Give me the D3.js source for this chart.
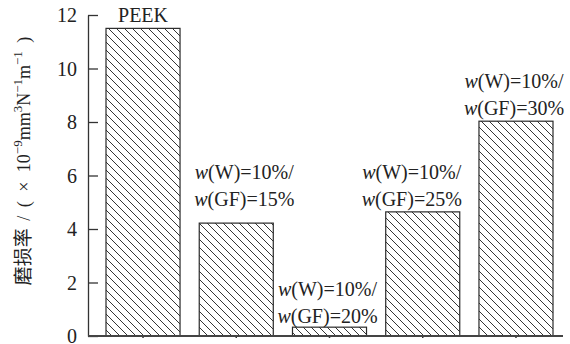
<!DOCTYPE html>
<html>
<head>
<meta charset="utf-8">
<script src="https://cdn.jsdelivr.net/npm/d3@7/dist/d3.min.js"></script>
<style>
  html, body { margin: 0; padding: 0; background: #fff; }
  svg { display: block; }
  text { font-family: 'Liberation Serif', 'DejaVu Serif', serif; fill: #222; }
</style>
</head>
<body>
<svg id="chart" width="570" height="344"></svg>
<script>
// Wear rate of PEEK and W/GF filled composites
const categories = ["PEEK", "w(W)=10%/w(GF)=15%", "w(W)=10%/w(GF)=20%", "w(W)=10%/w(GF)=25%", "w(W)=10%/w(GF)=30%"];
const wearRate = [11.5, 4.22, 0.33, 4.64, 8.03];
const yTicks = [0, 2, 4, 6, 8, 10, 12];

// small hand placements for the bar captions
const captionNudge = [
  { dx: 0, dy: 0 },
  { dx: 8, dy: -11 },
  { dx: -2, dy: 2 },
  { dx: -11, dy: 0 },
  { dx: -2, dy: 0 }
];

const SERIF = "'Liberation Serif', 'DejaVu Serif', serif";
const svg = d3.select("#chart");
const axisX = 88, baseY = 336, topY = 15, rightX = 563;

const y = d3.scaleLinear().domain([0, 12]).range([baseY, topY]);
const x = d3.scaleBand().domain(categories)
  .range([96.4, 562.6]).paddingInner(0.206).paddingOuter(0.103);

// diagonal hatching, running from upper left to lower right
const defs = svg.append("defs");
defs.append("pattern")
  .attr("id", "hatch")
  .attr("patternUnits", "userSpaceOnUse")
  .attr("width", 8).attr("height", 8)
  .append("path")
  .attr("d", "M-1,-1L9,9M-1,7L1,9M7,-1L9,1")
  .attr("stroke", "#1e1e1e").attr("stroke-width", 0.9).attr("fill", "none");

// bars
svg.append("g").selectAll("rect")
  .data(categories)
  .join("rect")
  .attr("x", d => x(d))
  .attr("y", (d, i) => y(wearRate[i]))
  .attr("width", x.bandwidth())
  .attr("height", (d, i) => y(0) - y(wearRate[i]))
  .attr("fill", "url(#hatch)")
  .attr("stroke", "#2a2a2a")
  .attr("stroke-width", 1.2);

// y axis with inward ticks
const yAxis = svg.append("g")
  .attr("transform", `translate(${axisX},0)`)
  .call(d3.axisLeft(y).tickValues(yTicks).tickSizeInner(-10).tickSizeOuter(0).tickPadding(11));
yAxis.attr("font-family", null).attr("font-size", null);
yAxis.select(".domain").attr("stroke", "#333").attr("stroke-width", 1.3);
yAxis.selectAll(".tick line").attr("stroke", "#333").attr("stroke-width", 1.3);
yAxis.selectAll(".tick text")
  .style("font-family", SERIF)
  .style("font-size", "20px").attr("fill", "#222").attr("dy", "0.34em");

// x axis: baseline with small ticks at the bars
const xAxis = svg.append("g")
  .attr("transform", `translate(0,${baseY})`)
  .call(d3.axisBottom(x).tickSizeInner(2).tickSizeOuter(0).tickFormat(""));
xAxis.select(".domain").remove();
xAxis.selectAll(".tick line").attr("stroke", "#333").attr("stroke-width", 1.5);
svg.append("line")
  .attr("x1", axisX).attr("x2", rightX)
  .attr("y1", baseY).attr("y2", baseY)
  .attr("stroke", "#444").attr("stroke-width", 2);

// captions above bars
function writeLine(t, str) {
  // italic "w" for mass fraction
  const parts = str.split(/(w)(?=\()/);
  parts.forEach(p => {
    if (!p) return;
    const s = t.append("tspan").text(p);
    if (p === "w") s.style("font-style", "italic");
  });
}
const caps = svg.append("g").selectAll("text")
  .data(categories)
  .join("text")
  .attr("text-anchor", "middle")
  .style("font-family", SERIF)
  .style("font-size", "20px")
  .attr("transform", (d, i) => {
    const cx = x(d) + x.bandwidth() / 2 + captionNudge[i].dx;
    const cy = y(wearRate[i]) - 6 + captionNudge[i].dy;
    return `translate(${cx},${cy})`;
  });
caps.each(function(d) {
  const t = d3.select(this);
  const cut = d.indexOf("/");
  if (cut < 0) {
    t.append("tspan").attr("x", 0).attr("y", 0).call(s => writeLine(s, d));
  } else {
    const l1 = d.slice(0, cut + 1), l2 = d.slice(cut + 1);
    t.append("tspan").attr("x", 0).attr("y", -27).call(s => writeLine(s, l1));
    t.append("tspan").attr("x", 0).attr("y", 0).call(s => writeLine(s, l2));
  }
});

// y axis title
const title = svg.append("text")
  .attr("transform", "translate(30,161) rotate(-90)")
  .attr("text-anchor", "middle")
  .style("font-family", SERIF)
  .style("font-size", "18px");
const piece = (txt, opt = {}) => {
  const s = title.append("tspan").text(txt);
  if (opt.dx) s.attr("dx", opt.dx);
  if (opt.dy) s.attr("dy", opt.dy);
  if (opt.size) s.style("font-size", opt.size);
  if (opt.cjk) s.style("font-family", "'Noto Sans CJK SC', sans-serif");
  return s;
};
piece("磨损率", { cjk: true, size: "19px" });
piece(" /", { dx: 3 });
piece(" (", { dx: 4 });
piece(" ×", { dx: 5 });
piece(" 10", { dx: 5 });
piece("−9", { dy: -8, size: "13px" });
piece("mm", { dy: 8 });
piece("3", { dy: -8, size: "13px" });
piece("N", { dy: 8 });
piece("−1", { dy: -8, size: "13px" });
piece("m", { dy: 8 });
piece("−1", { dy: -8, size: "13px" });
piece(" )", { dy: 8, dx: 4 });
</script>
</body>
</html>
